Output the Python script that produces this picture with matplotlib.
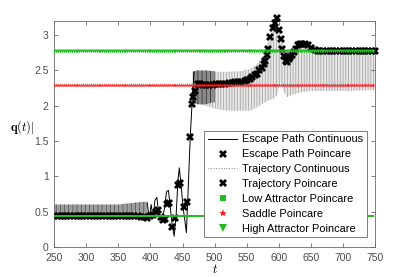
import numpy as np
import matplotlib
matplotlib.use("Agg")
import matplotlib.pyplot as plt
from matplotlib.lines import Line2D

plt.rcParams['font.family'] = ['Liberation Sans', 'DejaVu Sans']
plt.rcParams['mathtext.fontset'] = 'cm'
plt.rcParams['hatch.linewidth'] = 0.5

# ---------------- data ----------------
# Poincare sampling period and attractor levels
period = 3.0
t_start, t_end = 250, 750
low_attractor = 0.44
saddle_level = 2.29
high_attractor = 2.78

# Escape path continuous: oscillation band envelope (early phase)
esc_band_t = [250, 300, 350, 380, 395]
esc_band_lo = [0.40, 0.40, 0.40, 0.40, 0.40]
esc_band_hi = [0.60, 0.60, 0.60, 0.63, 0.64]
# Escape path continuous: individual swings during the escape
esc_line_t = [395, 398, 401, 404, 407, 410, 413, 416, 419, 422, 425, 428, 431,
              434, 437, 440, 443, 445, 448, 451, 454, 456, 459, 462, 465, 468]
esc_line_q = [0.62, 0.40, 0.60, 0.42, 0.66, 0.70, 0.45, 0.38, 0.42, 0.55, 0.78,
              0.80, 0.55, 0.30, 0.15, 0.45, 0.95, 1.12, 0.85, 0.55, 0.35, 0.20,
              0.85, 1.55, 2.05, 2.48]
# Escape path continuous: band after the jump
esc_band2_t = [466, 472, 485, 500]
esc_band2_lo = [2.05, 2.02, 2.02, 2.05]
esc_band2_hi = [2.48, 2.50, 2.50, 2.49]

# Escape path Poincare section
esc_flat_t = [250, 255, 260, 265, 270, 275, 280, 285, 290, 295, 300, 305, 310,
              315, 320, 325, 330, 335, 340, 345, 350, 355, 360, 365, 370, 375,
              380, 385, 390]
esc_flat_q = [0.44, 0.44, 0.44, 0.44, 0.44, 0.44, 0.44, 0.44, 0.44, 0.44, 0.44,
              0.44, 0.44, 0.44, 0.44, 0.44, 0.44, 0.44, 0.44, 0.44, 0.44, 0.44,
              0.44, 0.44, 0.44, 0.43, 0.43, 0.42, 0.42]
esc_poinc_t = [394, 399, 404, 408, 412, 416, 419, 423, 426, 429, 434, 439, 443,
               446, 452, 457, 462, 464.5, 467, 469.6, 474.7]
esc_poinc_q = [0.41, 0.43, 0.45, 0.50, 0.52, 0.42, 0.38, 0.40, 0.60, 0.62, 0.28,
               0.41, 0.88, 0.91, 0.57, 0.64, 1.55, 2.02, 2.12, 2.21, 2.31]

# Trajectory continuous: oscillation band envelope
traj_band_t = [478, 500, 520, 540, 555, 565, 575, 585, 592, 598, 603, 608, 613,
               620, 630, 640, 650, 665, 700, 750]
traj_band_lo = [2.02, 1.96, 1.93, 1.93, 1.93, 1.97, 2.03, 2.08, 2.10, 2.15, 2.35,
                2.20, 2.12, 2.15, 2.18, 2.20, 2.21, 2.21, 2.21, 2.22]
traj_band_hi = [2.48, 2.48, 2.48, 2.49, 2.52, 2.58, 2.70, 2.95, 3.15, 3.20, 3.05,
                2.80, 2.70, 2.76, 2.88, 2.90, 2.88, 2.82, 2.81, 2.81]

# Trajectory Poincare section
traj_poinc_t = [477, 482, 487, 492, 497, 502, 507, 512, 517, 522, 527, 532, 537,
                542, 547, 551, 555, 559, 563, 566, 570, 574, 577, 579, 582, 584,
                587, 591, 594, 597, 601, 603, 605, 608, 611, 613, 616, 618, 621,
                624, 627, 630, 633, 636, 641, 646, 651, 656, 661, 665, 670, 675,
                680, 685, 690, 695, 700, 705, 710, 715, 720, 725, 730, 735, 740,
                745, 750]
traj_poinc_q = [2.31, 2.30, 2.30, 2.30, 2.30, 2.31, 2.31, 2.31, 2.31, 2.32, 2.32,
                2.33, 2.33, 2.34, 2.35, 2.36, 2.38, 2.40, 2.43, 2.45, 2.50, 2.54,
                2.59, 2.64, 2.72, 2.81, 2.98, 3.10, 3.17, 3.24, 3.07, 2.95, 2.81,
                2.70, 2.64, 2.62, 2.66, 2.69, 2.72, 2.76, 2.80, 2.86, 2.88, 2.88,
                2.87, 2.86, 2.82, 2.79, 2.77, 2.77, 2.78, 2.78, 2.78, 2.78, 2.78,
                2.78, 2.78, 2.78, 2.78, 2.78, 2.78, 2.78, 2.78, 2.78, 2.78, 2.78,
                2.78]

xticks = [250, 300, 350, 400, 450, 500, 550, 600, 650, 700, 750]
yticks = [0, 0.5, 1, 1.5, 2, 2.5, 3]
ytick_labels = ['0', '0.5', '1', '1.5', '2', '2.5', '3']

# ---------------- plot ----------------
fig = plt.figure(figsize=(4.15, 2.77), dpi=100)
ax = fig.add_axes([0.131, 0.109, 0.772, 0.815])

black = 'k'

# trajectory continuous band (stippled dotted look)
ax.fill_between(traj_band_t, traj_band_lo, traj_band_hi, facecolor='0.9',
                edgecolor='0.62', linewidth=0, hatch='||||||', zorder=1)
# escape path continuous bands
ax.fill_between(esc_band_t, esc_band_lo, esc_band_hi, facecolor='0.62',
                edgecolor='0.3', linewidth=0, hatch='||||', zorder=2)
ax.fill_between(esc_band2_t, esc_band2_lo, esc_band2_hi, facecolor='0.55',
                edgecolor='0.15', linewidth=0, hatch='||||', zorder=2)
ax.plot(esc_line_t, esc_line_q, color=black, lw=0.7, zorder=3)

# Poincare markers
ms = 6
ax.plot(esc_flat_t, esc_flat_q, ls='none', marker='X', color=black, ms=ms,
        mew=0, zorder=4)
ax.plot(esc_poinc_t, esc_poinc_q, ls='none', marker='X', color=black, ms=ms,
        mew=0, zorder=4)
ax.plot(traj_poinc_t, traj_poinc_q, ls='none', marker='X', color=black, ms=ms,
        mew=0, zorder=4, clip_on=False)

# attractor / saddle Poincare points
pt = np.arange(t_start, t_end + 0.1, period)
ax.plot(pt, np.full(pt.shape, low_attractor), ls='none', marker='s',
        color='#22bb22', ms=2.0, mew=0, zorder=5)
ax.plot(pt, np.full(pt.shape, saddle_level), ls='none', marker='*',
        color='#ff2222', ms=3.0, mew=0, zorder=5)
ax.plot(pt, np.full(pt.shape, high_attractor), ls='none', marker='v',
        color='#22bb22', ms=2.6, mew=0, zorder=5)

# legend proxies
handles = [
    Line2D([], [], color=black, lw=0.7),
    Line2D([], [], ls='none', marker='X', color=black, ms=6, mew=0),
    Line2D([], [], color='0.5', lw=0.7, ls=':'),
    Line2D([], [], ls='none', marker='X', color=black, ms=6, mew=0),
    Line2D([], [], ls='none', marker='s', color='#22bb22', ms=4, mew=0),
    Line2D([], [], ls='none', marker='*', color='#ff2222', ms=6, mew=0),
    Line2D([], [], ls='none', marker='v', color='#22bb22', ms=6, mew=0),
]
labels = ['Escape Path Continuous', 'Escape Path Poincare',
          'Trajectory Continuous', 'Trajectory Poincare',
          'Low Attractor Poincare', 'Saddle Poincare',
          'High Attractor Poincare']
leg = ax.legend(handles, labels, loc='lower right',
                bbox_to_anchor=(0.975, 0.042), fontsize=7.9, frameon=True,
                fancybox=False, framealpha=1, edgecolor='0.4',
                handlelength=2.7, handletextpad=0.45, labelspacing=0.45,
                borderpad=0.3, borderaxespad=0)
leg.get_frame().set_linewidth(0.6)
leg.set_zorder(10)

ax.set_xlim(250, 750)
ax.set_ylim(0, 3.2)
ax.set_xticks(xticks)
ax.set_yticks(yticks)
ax.set_yticklabels(ytick_labels)
ax.tick_params(direction='in', top=True, right=True, labelsize=7.5,
               colors='0.3', length=3, width=0.5)
ax.tick_params(axis='x', pad=4.5)
ax.tick_params(axis='y', pad=4)
for s in ax.spines.values():
    s.set_color('0.4')
    s.set_linewidth(0.6)

fig.text(0.518, 0.028, r'$t$', fontsize=9, ha='center', va='center')
fig.text(0.053, 0.542, r'$\mathbf{q}(t)|$', fontsize=9, ha='center',
         va='center')

fig.savefig('out.png', dpi=100)
